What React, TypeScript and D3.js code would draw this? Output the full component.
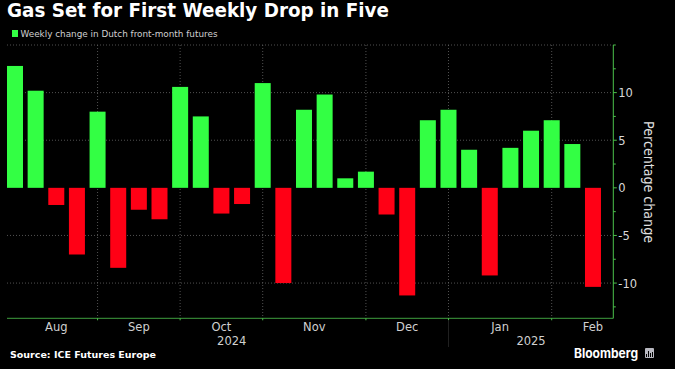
import React from "react";
import * as d3 from "d3";

const W = 675, H = 369;
const titleText = "Gas Set for First Weekly Drop in Five";
const legendText = "Weekly change in Dutch front-month futures";
const sourceText = "Source: ICE Futures Europe";
const axisTitle = "Percentage change";

const weekly = [
  12.8, 10.2, -1.8, -7.0, 8.0, -8.4, -2.3, -3.3, 10.6, 7.5, -2.7, -1.7, 11.0, -10.0, 8.2,
  9.8, 1.0, 1.7, -2.8, -11.3, 7.1, 8.2, 4.0, -9.2, 4.2, 6.0, 7.1, 4.6, -10.4,
];
const monthEndIdx = [4, 8, 12, 17, 21, 26];
const yearBreakIdx = 21;
const monthLabels = ["Aug", "Sep", "Oct", "Nov", "Dec", "Jan", "Feb"];
const monthPos = [2, 6, 10, 14.5, 19, 23.5, 28];
const yearLabels = ["2024", "2025"];
const yearPos = [10.5, 25];
const majorTicks = [10, 5, 0, -5, -10];
const minorTicks = [15, 12.5, 7.5, 2.5, -2.5, -7.5, -12.5];
const gridVals = [15, 10, 5, -5, -10];
const logoBars = [3, 6, 4, 5];

const green = "#33ff44";
const red = "#ff0015";
const axisGreen = "#4cc24c";
const labelFont = "'DejaVu Sans', sans-serif";

export default function App() {
  const left = 7, right = 613.3, top = 45, bottom = 318.3;
  const y = d3.scaleLinear().domain([15, -13.7]).range([top, bottom]);
  const xb = d3.scaleBand<number>().domain(d3.range(weekly.length)).range([4.68, 603.3]).paddingInner(0.225).paddingOuter(0.1125);
  const cx = (i: number) => 4.68 + (i + 0.5) * xb.step();
  return (
    <svg width={W} height={H} style={{ position: "fixed", left: 0, top: 0, background: "#000" }}>
      <rect width={W} height={H} fill="#000" />
      <text x={7} y={17} fill="#fff" fontFamily={labelFont} fontWeight={700} fontSize={19} textLength={382} lengthAdjust="spacingAndGlyphs">{titleText}</text>
      <rect x={12} y={30} width={6} height={7} fill={green} />
      <text x={20.5} y={37} fill="#d0d0d0" fontFamily={labelFont} fontSize={9.5} textLength={197} lengthAdjust="spacingAndGlyphs">{legendText}</text>

      {gridVals.map((v) => (
        <line key={v} x1={left} x2={right} y1={y(v)} y2={y(v)} stroke="#666" strokeWidth={0.8} strokeDasharray="1 2" />
      ))}
      {monthEndIdx.map((i) => (
        <line key={i} x1={cx(i)} x2={cx(i)} y1={top} y2={bottom} stroke="#666" strokeWidth={0.8} strokeDasharray="1 2" />
      ))}

      {weekly.map((v, i) => (
        <rect key={i} x={xb(i)} width={xb.bandwidth()} y={Math.min(y(v), y(0))} height={Math.abs(y(v) - y(0))} fill={v >= 0 ? green : red} />
      ))}

      <line x1={left} x2={right} y1={bottom} y2={bottom} stroke="#3f9f3f" />
      <line x1={right} x2={right} y1={top} y2={bottom} stroke={axisGreen} />
      {monthEndIdx.map((i) => (
        <line key={i} x1={cx(i)} x2={cx(i)} y1={bottom} y2={bottom + 2} stroke={axisGreen} />
      ))}
      <line x1={cx(yearBreakIdx)} x2={cx(yearBreakIdx)} y1={bottom + 2} y2={347} stroke="#2a2a2a" strokeWidth={0.8} />
      {majorTicks.map((v) => (
        <g key={v}>
          <line x1={right} x2={right + 3.5} y1={y(v)} y2={y(v)} stroke={axisGreen} />
          <text x={right + 5} y={y(v) + 4.5} fill="#d8d8d8" fontFamily={labelFont} fontSize={11.5}>{v}</text>
        </g>
      ))}
      {minorTicks.map((v) => (
        <line key={v} x1={right} x2={right + 2.5} y1={y(v)} y2={y(v)} stroke={axisGreen} />
      ))}
      <text transform="translate(643.5,182) rotate(90)" textAnchor="middle" fill="#e0e0e0" fontFamily={labelFont} fontSize={14} textLength={122} lengthAdjust="spacingAndGlyphs">{axisTitle}</text>

      {monthLabels.map((m, i) => (
        <text key={m} x={cx(monthPos[i])} y={331} textAnchor="middle" fill="#d0d0d0" fontFamily={labelFont} fontSize={11.5}>{m}</text>
      ))}
      {yearLabels.map((t, i) => (
        <text key={t} x={cx(yearPos[i])} y={344.5} textAnchor="middle" fill="#d0d0d0" fontFamily={labelFont} fontSize={11.5}>{t}</text>
      ))}
      <text x={10} y={358} fill="#fff" fontFamily={labelFont} fontWeight={700} fontSize={9.5} textLength={146} lengthAdjust="spacingAndGlyphs">{sourceText}</text>
      <text x={574} y={358} fill="#fff" fontFamily="Inter, sans-serif" fontWeight={700} fontSize={13} textLength={64} lengthAdjust="spacingAndGlyphs">Bloomberg</text>
      <rect x={645} y={348} width={9} height={10} rx={1} fill="#b8b8c0" />
      {logoBars.map((h, i) => (
        <rect key={i} x={646 + i * 2} y={357 - h} width={1} height={h} fill="#000" />
      ))}
    </svg>
  );
}
